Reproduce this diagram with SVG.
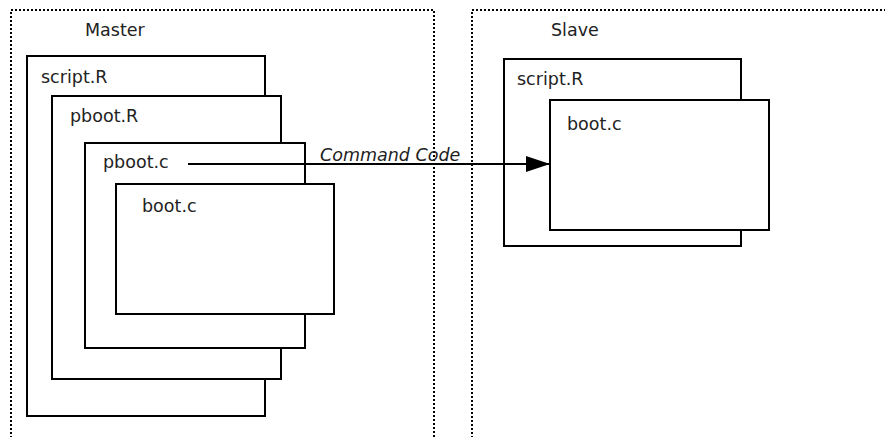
<svg xmlns="http://www.w3.org/2000/svg" width="885" height="437" viewBox="0 0 885 437">
<defs>
<style>
.box{fill:#fff;stroke:#000;stroke-width:2}
.region{fill:none;stroke:#000;stroke-width:2;stroke-dasharray:2 2}
.lbl{font-family:"DejaVu Sans",sans-serif;font-size:17.5px;fill:#222}
.edge{font-family:"DejaVu Sans",sans-serif;font-size:17.5px;font-style:italic;fill:#222}
.conn{stroke:#000;stroke-width:2;fill:none}
</style>
<marker id="arr" markerUnits="userSpaceOnUse" markerWidth="26" markerHeight="18" refX="25" refY="9" orient="auto">
<path d="M1,1 L25,9 L1,17 Z" fill="#000"/>
</marker>
</defs>
<rect width="885" height="437" fill="#fff"/>
<g id="master">
<path class="region" d="M11,438 V10 H434 V438"/>
<text class="lbl" x="85" y="36">Master</text>
</g>
<g id="slave">
<path class="region" d="M472,438 V10 H886"/>
<text class="lbl" x="551" y="36">Slave</text>
</g>
<g id="m-script">
<rect class="box" x="27" y="56" width="238" height="360"/>
<text class="lbl" x="41" y="83">script.R</text>
</g>
<g id="m-pbootR">
<rect class="box" x="52" y="96" width="229" height="283"/>
<text class="lbl" x="70" y="122">pboot.R</text>
</g>
<g id="m-pbootc">
<rect class="box" x="85" y="143" width="220" height="205"/>
<text class="lbl" x="103" y="168">pboot.c</text>
</g>
<g id="m-bootc">
<rect class="box" x="116" y="184" width="218" height="130"/>
<text class="lbl" x="142" y="212">boot.c</text>
</g>
<g id="s-script">
<rect class="box" x="504" y="59" width="237" height="187"/>
<text class="lbl" x="517" y="85">script.R</text>
</g>
<g id="s-bootc">
<rect class="box" x="550" y="100" width="219" height="130"/>
<text class="lbl" x="567" y="130">boot.c</text>
</g>
<g id="connectors">
<line class="conn" x1="188" y1="164" x2="550" y2="164" marker-end="url(#arr)"/>
<text class="edge" x="320" y="161">Command Code</text>
</g>
</svg>
